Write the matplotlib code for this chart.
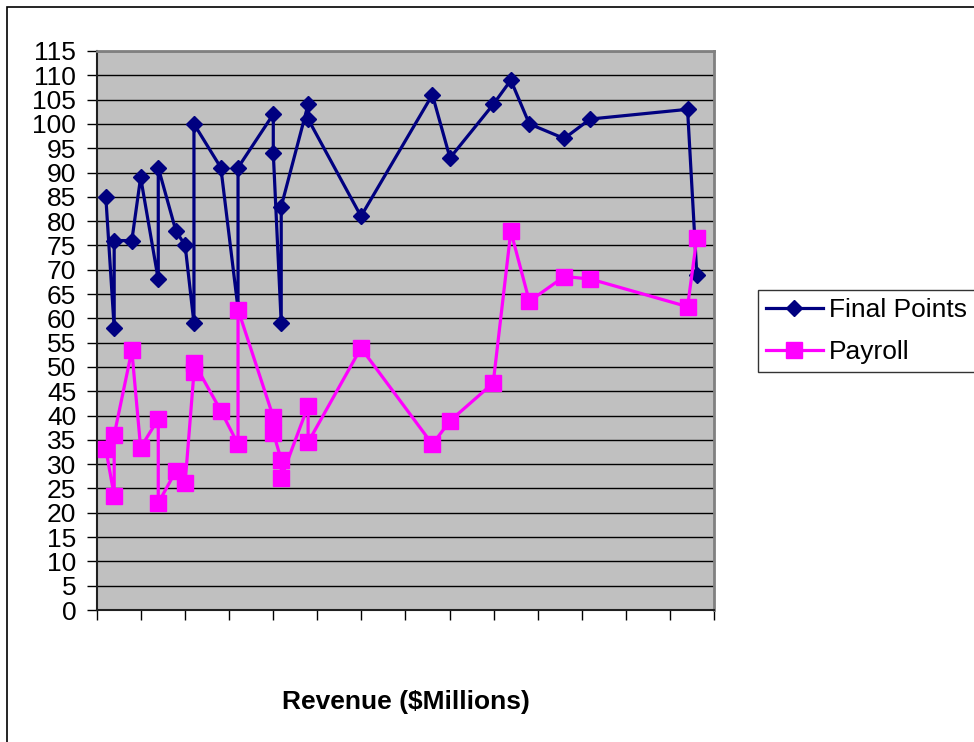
import matplotlib
matplotlib.use("Agg")
import matplotlib.pyplot as plt
from matplotlib.patches import Rectangle

plt.rcParams['font.family'] = ['Liberation Sans', 'DejaVu Sans']

# revenue per club (axis units, ticks unlabeled)
revenue = [2.0, 3.9, 3.9, 7.9, 9.9, 13.9, 13.9, 17.9, 20.0, 22.0, 22.0,
           28.1, 32.0, 32.0, 40.0, 40.0, 41.8, 41.8, 47.9, 47.9,
           59.9, 76.1, 80.1, 89.9, 93.9, 98.1, 106.0, 111.9, 134.0, 136.1]
final_points = [85, 58, 76, 76, 89, 68, 91, 78, 75, 59, 100,
                91, 62, 91, 102, 94, 59, 83, 104, 101,
                81, 106, 93, 104, 109, 100, 97, 101, 103, 69]
payroll = [33.1, 23.5, 36.0, 53.4, 33.4, 39.3, 22.0, 28.6, 26.2, 48.9, 50.9,
           41.0, 34.1, 61.8, 39.7, 36.5, 30.9, 27.2, 42.0, 34.5,
           53.9, 34.1, 38.9, 46.7, 77.9, 63.5, 68.6, 68.1, 62.4, 76.5]

fig = plt.figure(figsize=(9.74, 7.42), dpi=100)
fig.patch.set_facecolor('white')

# outer chart frame
fig.patches.append(Rectangle((7 / 974, -0.05), 1.1, 1 - 7 / 742 + 0.05,
                             transform=fig.transFigure, fill=False,
                             edgecolor='black', linewidth=1.2))

ax = fig.add_axes([97 / 974, 1 - 610 / 742, (714 - 97) / 974, (610 - 51) / 742])
ax.set_facecolor('#C0C0C0')

ax.plot(revenue, final_points, color='#000080', linewidth=2.3,
        marker='D', markersize=8.5, label='Final Points', zorder=3)
ax.plot(revenue, payroll, color='#FF00FF', linewidth=2.3,
        marker='s', markersize=11, label='Payroll', zorder=4)

ax.set_xlim(0, 140)
ax.set_ylim(0, 115)
ax.set_yticks(range(0, 116, 5))
ax.set_xticks(range(0, 141, 10))
ax.set_xticklabels([])
ax.tick_params(axis='y', labelsize=19, length=7, width=1, pad=8, direction='out')
ax.tick_params(axis='x', length=7, width=1, direction='out')
ax.yaxis.grid(True, color='black', linewidth=1)
ax.set_axisbelow(True)

for side in ('top', 'right'):
    ax.spines[side].set_color('#808080')
    ax.spines[side].set_linewidth(2)
for side in ('left', 'bottom'):
    ax.spines[side].set_color('#202020')
    ax.spines[side].set_linewidth(1.5)

fig.text(406 / 974, 1 - 702 / 742, 'Revenue ($Millions)', ha='center', va='center',
         fontsize=19, fontweight='bold')

leg = fig.legend(loc='upper left', bbox_to_anchor=(758 / 974, 1 - 290 / 742),
                 fontsize=19, frameon=True, fancybox=False, handlelength=2.15,
                 handletextpad=0.25, borderpad=0.3, labelspacing=0.7,
                 borderaxespad=0)
leg.get_frame().set_edgecolor('black')
leg.get_frame().set_linewidth(1)

fig.savefig('out.png', dpi=100)
